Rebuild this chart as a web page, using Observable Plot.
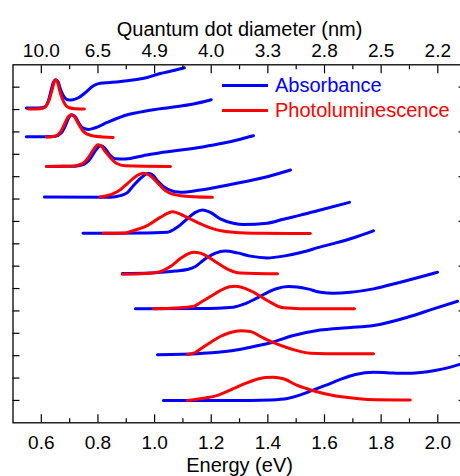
<!DOCTYPE html>
<html><head><meta charset="utf-8">
<script src="https://cdn.jsdelivr.net/npm/d3@7"></script>
<script src="https://cdn.jsdelivr.net/npm/@observablehq/plot@0.6"></script>
<style>
html,body{margin:0;padding:0;background:#fff;overflow:hidden}
#wrap{position:relative;width:460px;height:476px;overflow:hidden}
#legend{position:absolute;left:222px;top:72.9px;font-family:"Liberation Sans",Arial,sans-serif;font-size:20px}
.row{display:flex;align-items:center;height:25.2px;line-height:25.2px;white-space:nowrap}
.sw{width:46px;height:3px;margin-right:7px}
</style></head><body><div id="wrap"><div id="legend"></div></div>
<script>
// Energy axis ticks (eV) and the matching quantum-dot diameters (nm)
const energyTicks = [0.6, 0.8, 1.0, 1.2, 1.4, 1.6, 1.8, 2.0];
const energyMinor = [0.7, 0.9, 1.1, 1.3, 1.5, 1.7, 1.9];
const diameterLabels = ["10.0", "6.5", "4.9", "4.0", "3.3", "2.8", "2.5", "2.2"];
const offsetTicksLeft = [0, 0.5, 1, 1.5, 2, 2.5, 3, 3.5, 4, 4.5, 5, 5.5, 6, 6.5, 7];
const offsetTicksRight = [0, 1, 2, 3, 4, 5, 6, 7];
const seriesNames = ["Absorbance", "Photoluminescence"];
const seriesColors = ["#0000ff", "#ff0000"];

// [energy (eV), offset intensity] per sample, largest dot first
const absorbance = [
  [[0.547,6.533],[0.589,6.533],[0.611,6.55],[0.625,6.696],[0.635,6.942],[0.642,7.098],[0.651,7.165],[0.660,7.11],[0.667,6.964],[0.678,6.808],[0.692,6.719],[0.706,6.712],[0.731,6.763],[0.755,6.875],[0.784,7.031],[0.808,7.087],[0.844,7.105],[0.904,7.143],[0.974,7.217],[1.020,7.306],[1.063,7.366],[1.105,7.433]],
  [[0.547,5.893],[0.614,5.893],[0.649,5.904],[0.671,5.982],[0.685,6.138],[0.697,6.317],[0.708,6.384],[0.720,6.339],[0.734,6.183],[0.748,6.083],[0.766,6.054],[0.791,6.094],[0.833,6.212],[0.904,6.384],[0.974,6.473],[1.056,6.547],[1.137,6.623],[1.200,6.719]],
  [[0.618,5.230],[0.720,5.234],[0.752,5.279],[0.773,5.402],[0.791,5.580],[0.805,5.681],[0.812,5.692],[0.826,5.625],[0.840,5.502],[0.861,5.402],[0.897,5.395],[0.960,5.469],[1.020,5.535],[1.100,5.600],[1.170,5.665],[1.240,5.745],[1.303,5.837],[1.349,5.915]],
  [[0.611,4.547],[0.844,4.542],[0.879,4.576],[0.904,4.643],[0.925,4.799],[0.957,5.000],[0.978,5.074],[0.996,5.022],[1.010,4.911],[1.045,4.725],[1.091,4.650],[1.162,4.703],[1.278,4.837],[1.398,5.000],[1.480,5.150]],
  [[0.747,3.734],[0.950,3.739],[1.045,3.757],[1.080,3.868],[1.116,4.063],[1.144,4.203],[1.169,4.257],[1.197,4.203],[1.232,4.056],[1.278,3.958],[1.314,3.929],[1.398,3.960],[1.455,4.050],[1.515,4.140],[1.575,4.240],[1.688,4.426]],
  [[0.886,2.835],[0.985,2.846],[1.073,2.891],[1.116,2.924],[1.144,2.991],[1.162,3.080],[1.186,3.192],[1.215,3.292],[1.250,3.337],[1.292,3.297],[1.338,3.225],[1.398,3.185],[1.460,3.230],[1.520,3.310],[1.580,3.420],[1.640,3.520],[1.700,3.630],[1.773,3.790]],
  [[0.932,2.047],[1.162,2.054],[1.278,2.083],[1.321,2.165],[1.356,2.270],[1.391,2.388],[1.427,2.489],[1.472,2.545],[1.540,2.493],[1.586,2.417],[1.631,2.395],[1.692,2.417],[1.773,2.493],[1.868,2.641],[1.999,2.864]],
  [[1.010,1.020],[1.162,1.049],[1.278,1.116],[1.338,1.190],[1.416,1.301],[1.490,1.451],[1.575,1.563],[1.631,1.600],[1.692,1.629],[1.773,1.674],[1.893,1.859],[1.985,2.047],[2.070,2.217]],
  [[1.031,0],[1.338,0],[1.409,0.011],[1.469,0.045],[1.515,0.123],[1.557,0.223],[1.603,0.335],[1.656,0.469],[1.709,0.580],[1.773,0.632],[1.830,0.615],[1.880,0.605],[1.940,0.625],[1.990,0.670],[2.045,0.745],[2.098,0.850]]
];
const photoluminescence = [
  [[0.554,6.511],[0.596,6.518],[0.614,6.563],[0.628,6.719],[0.639,6.964],[0.649,7.158],[0.657,7.11],[0.665,6.920],[0.674,6.741],[0.685,6.607],[0.699,6.54],[0.720,6.518],[0.752,6.511]],
  [[0.618,5.886],[0.649,5.904],[0.667,5.993],[0.681,6.161],[0.695,6.339],[0.706,6.384],[0.717,6.339],[0.731,6.183],[0.745,6.038],[0.762,5.949],[0.791,5.904],[0.854,5.877]],
  [[0.618,5.230],[0.710,5.234],[0.745,5.290],[0.766,5.424],[0.784,5.603],[0.800,5.714],[0.812,5.681],[0.826,5.558],[0.844,5.424],[0.865,5.301],[0.897,5.246],[1.056,5.230]],
  [[0.808,4.547],[0.854,4.621],[0.879,4.710],[0.904,4.844],[0.932,5.000],[0.960,5.074],[0.985,5.022],[1.010,4.866],[1.038,4.688],[1.063,4.609],[1.091,4.576],[1.204,4.538]],
  [[0.819,3.734],[0.897,3.743],[0.925,3.795],[0.974,3.906],[1.020,4.091],[1.063,4.219],[1.102,4.129],[1.151,3.980],[1.208,3.833],[1.278,3.757],[1.374,3.734],[1.550,3.728]],
  [[0.886,2.819],[0.967,2.835],[1.020,2.879],[1.056,2.991],[1.091,3.170],[1.116,3.270],[1.137,3.310],[1.162,3.292],[1.190,3.203],[1.222,3.069],[1.257,2.935],[1.303,2.846],[1.434,2.828]],
  [[0.996,2.047],[1.073,2.065],[1.137,2.098],[1.162,2.188],[1.197,2.321],[1.232,2.455],[1.261,2.533],[1.285,2.551],[1.338,2.455],[1.398,2.232],[1.455,2.069],[1.515,2.05],[1.706,2.047]],
  [[1.116,1.027],[1.144,1.071],[1.162,1.150],[1.197,1.295],[1.232,1.429],[1.268,1.518],[1.303,1.556],[1.338,1.540],[1.374,1.429],[1.416,1.301],[1.480,1.154],[1.550,1.056],[1.656,1.042],[1.773,1.042]],
  [[1.116,0],[1.162,0.038],[1.222,0.112],[1.278,0.261],[1.321,0.379],[1.356,0.462],[1.391,0.513],[1.420,0.520],[1.455,0.484],[1.504,0.335],[1.557,0.223],[1.631,0.112],[1.692,0.060],[1.752,0.022],[1.903,0.011]]
];

const toRows = (sets) => sets.flatMap((pts, i) => pts.map(([E, y]) => ({sample: i, E, y})));
const absRows = toRows(absorbance);
const plRows = toRows(photoluminescence);

const font = '"Liberation Sans", Arial, sans-serif';
const diamFor = (d) => diameterLabels[energyTicks.findIndex(t => Math.abs(t - d) < 1e-9)];
const blank = () => "";

const chart = Plot.plot({
  width: 460,
  height: 476,
  marginLeft: 12.5,
  marginRight: -5.6,
  marginTop: 64.3,
  marginBottom: 53.7,
  style: {fontFamily: font, color: "black", background: "white", overflow: "hidden"},
  x: {domain: [0.5, 2.1]},
  y: {domain: [-0.5, 7.5]},
  marks: [
    Plot.line(absRows, {x: "E", y: "y", z: "sample", stroke: seriesColors[0], strokeWidth: 3, curve: "monotone-x"}),
    Plot.line(plRows, {x: "E", y: "y", z: "sample", stroke: seriesColors[1], strokeWidth: 3, curve: "monotone-x"}),
    // bottom axis
    Plot.axisX({anchor: "bottom", ticks: energyTicks, tickSize: -8, tickFormat: blank, label: null, strokeWidth: 1.2}),
    Plot.axisX({anchor: "bottom", ticks: energyMinor, tickSize: -4, tickFormat: blank, label: null, strokeWidth: 1.2}),
    Plot.axisX({anchor: "bottom", ticks: energyTicks, tickSize: 0, tickPadding: 12.7, tickFormat: d3.format(".1f"), fontSize: 19, label: null}),
    // top axis (diameters)
    Plot.axisX({anchor: "top", ticks: energyTicks, tickSize: -8, tickFormat: blank, label: null, strokeWidth: 1.2}),
    Plot.axisX({anchor: "top", ticks: energyMinor, tickSize: -4, tickFormat: blank, label: null, strokeWidth: 1.2}),
    Plot.axisX({anchor: "top", ticks: energyTicks, tickSize: 0, tickPadding: 8.3, tickFormat: diamFor, fontSize: 19, label: null}),
    // y ticks
    Plot.axisY({anchor: "left", ticks: offsetTicksLeft, tickSize: -7, tickFormat: blank, label: null, strokeWidth: 1.2}),
    Plot.axisY({anchor: "right", ticks: offsetTicksRight, tickSize: -8, tickFormat: blank, label: null, strokeWidth: 1.2}),
    Plot.frame({stroke: "black", strokeWidth: 1.3}),
    Plot.text(["Energy (eV)"], {frameAnchor: "bottom", dy: 35.3, lineAnchor: "top", fontSize: 20, fill: "black"}),
    Plot.text(["Quantum dot diameter (nm)"], {frameAnchor: "top", dy: -29.3, lineAnchor: "bottom", fontSize: 20, fill: "black"})
  ]
});
const wrap = document.getElementById("wrap");
wrap.insertBefore(chart, wrap.firstChild);

const legend = document.getElementById("legend");
seriesNames.forEach((name, i) => {
  const row = document.createElement("div");
  row.className = "row";
  const sw = document.createElement("span");
  sw.className = "sw";
  sw.style.background = seriesColors[i];
  const label = document.createElement("span");
  label.textContent = name;
  label.style.color = seriesColors[i];
  row.appendChild(sw);
  row.appendChild(label);
  legend.appendChild(row);
});
</script></body></html>
